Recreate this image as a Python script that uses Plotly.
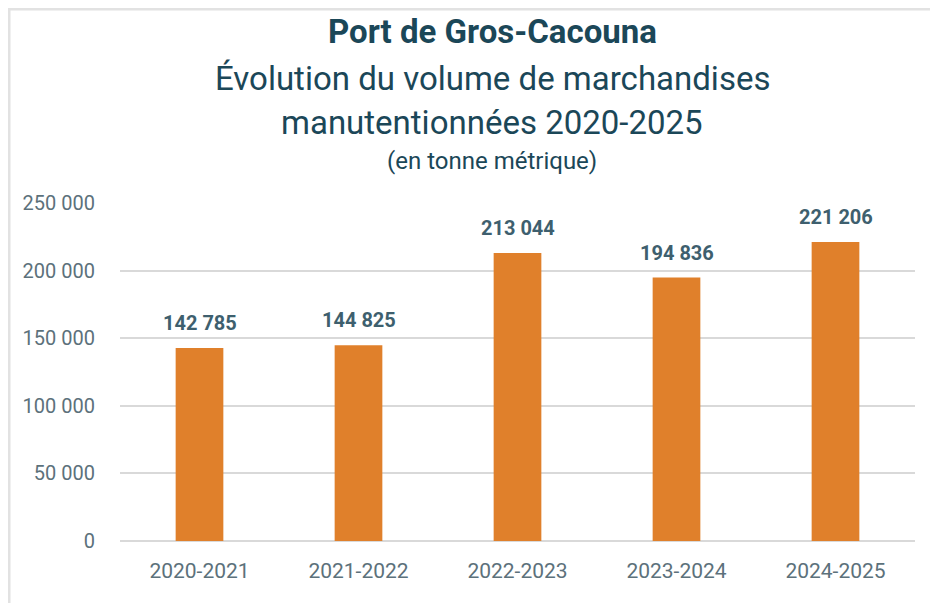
import plotly.graph_objects as go

# valeurs
saisons = ["2020-2021", "2021-2022", "2022-2023", "2023-2024", "2024-2025"]
tonnes = [142785, 144825, 213044, 194836, 221206]
y_ticks = [0, 50000, 100000, 150000, 200000, 250000]

BAR_COLOR = "#E0802B"
TITLE_COLOR = "#1B4758"
LABEL_COLOR = "#3E5F6E"
TICK_COLOR = "#5C717B"
FONT = "Roboto, Open Sans, sans-serif"

# la page ajoute une marge de 8 px : la figure fait donc 930 x 595
W, H = 930, 595
M = {"l": 112, "r": 23, "t": 195, "b": 62}
PW = W - M["l"] - M["r"]
PH = H - M["t"] - M["b"]


def fmt(v: int) -> str:
    return f"{v:,}".replace(",", " ")


def px_x(x: float) -> float:
    return (x - M["l"]) / PW


def px_y(y: float) -> float:
    return 1 + (M["t"] - y) / PH


fig = go.Figure()
fig.add_trace(
    go.Bar(
        x=saisons,
        y=tonnes,
        marker={"color": BAR_COLOR, "line": {"width": 0}},
        hoverinfo="skip",
    )
)

for s, v in zip(saisons, tonnes):
    fig.add_annotation(
        x=s,
        y=v,
        text=f"<b>{fmt(v)}</b>",
        showarrow=False,
        yanchor="middle",
        yshift=25,
        font={"size": 20, "color": LABEL_COLOR, "family": FONT},
    )

titles = [
    ("<b>Port de Gros-Cacouna</b>", 33, 23),
    ("Évolution du volume de marchandises", 33, 70),
    ("manutentionnées 2020-2025", 33, 114),
    ("(en tonne métrique)", 24, 153),
]
for txt, size, ypix in titles:
    fig.add_annotation(
        xref="paper",
        yref="paper",
        x=px_x(484),
        y=px_y(ypix),
        text=txt,
        showarrow=False,
        xanchor="center",
        yanchor="middle",
        font={"size": size, "color": TITLE_COLOR, "family": FONT},
    )

# cadre gris clair (haut, gauche, droite) autour du graphique
fig.add_shape(
    type="rect",
    xref="paper",
    yref="paper",
    x0=px_x(1),
    x1=px_x(W - 2),
    y0=px_y(H + 10),
    y1=px_y(1),
    line={"color": "#E2E2E2", "width": 3},
    layer="below",
)

fig.update_layout(
    width=W,
    height=H,
    margin=M,
    paper_bgcolor="white",
    plot_bgcolor="white",
    bargap=0.70,
    showlegend=False,
    font={"family": FONT, "color": TICK_COLOR},
    xaxis={
        "showgrid": False,
        "showline": False,
        "ticks": "",
        "tickfont": {"size": 21, "color": TICK_COLOR},
        "ticklabelstandoff": 15,
    },
    yaxis={
        "range": [0, 250000],
        "tickvals": y_ticks,
        "ticktext": [fmt(v) for v in y_ticks],
        "showgrid": True,
        "gridcolor": "#D9D9D9",
        "gridwidth": 2,
        "zeroline": True,
        "zerolinecolor": "#D9D9D9",
        "zerolinewidth": 2,
        "tickfont": {"size": 20, "color": TICK_COLOR},
        "ticklabelstandoff": 24,
    },
)

fig.write_html("out.html")
